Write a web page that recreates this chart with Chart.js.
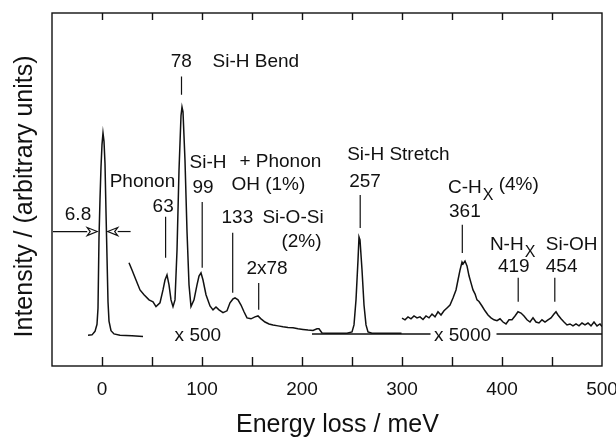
<!DOCTYPE html>
<html>
<head>
<meta charset="utf-8">
<script src="https://cdn.jsdelivr.net/npm/chart.js@4.4.1/dist/chart.umd.min.js"></script>
<style>
  html, body { margin: 0; padding: 0; background: #fff; }
  #box { width: 616px; height: 439px; }
</style>
</head>
<body>
<div id="box"><canvas id="myChart" width="616" height="439"></canvas></div>
<script>
// energy loss in meV, intensity in arbitrary units (zero = baseline)

// elastic peak, x 1
var elasticE = [-14, -10, -7, -5, -4, -3, -2, -1, 0, 1, 2, 3, 4, 5, 6, 7, 9, 12, 18, 30, 41];
var elasticI = [-0.4, -0.3, 0.8, 3, 8, 30, 42, 52, 59, 62.6, 60, 53, 38, 24, 10, 4, 1, 0, -0.4, -0.6, -0.8];

// vibrational region, x 500
var lowE = [27, 30, 34, 38, 42, 47, 51, 54, 58, 61, 63, 65, 67, 69, 71, 73, 75, 77, 79, 80, 81, 83, 85, 87, 89,
  92, 95, 97, 99, 101, 104, 108, 111, 114, 117, 121, 125, 128, 131, 133, 136, 139, 142, 145, 149, 153, 156, 159,
  163, 167, 171, 176, 181, 186, 191, 196, 201, 206, 211, 215, 217, 220, 225, 235, 245, 250, 252, 254, 256, 257,
  258, 260, 262, 264, 266, 270, 280, 290, 299.5];
var lowI = [22.2, 19.9, 16.8, 13.7, 12.2, 10.6, 10.0, 8.5, 9.7, 13.7, 16.8, 18.4, 15.3, 10.6, 8.5, 10.6, 26, 51,
  68, 70.7, 69.2, 54, 32, 15.3, 8.5, 10.6, 15.3, 18, 19, 16.8, 12.2, 8.7, 7.5, 8.4, 7.5, 6.6, 7.2, 9.7, 10.9,
  11.2, 10.6, 9.0, 6.9, 5.0, 4.7, 5.3, 5.6, 4.7, 3.7, 3.1, 2.8, 2.5, 2.2, 2.0, 1.9, 1.6, 1.4, 1.2, 1.1, 1.6, 1.6,
  0.3, 0.2, 0.2, 0.2, 0.6, 2.8, 10.6, 23, 30.2, 29.3, 20, 9, 2.8, 0.6, 0.2, 0.2, 0.2, 0.2];

// stretching region, x 5000
var highE = [300, 303, 306, 309, 312, 315, 318, 321, 324, 327, 330, 333, 336, 339, 342, 345, 348, 351, 354, 356,
  358, 360, 361, 363, 365, 367, 369, 371, 373, 375, 377, 380, 383, 386, 389, 392, 395, 398, 401, 404, 407, 410,
  413, 416, 419, 422, 425, 428, 431, 434, 437, 440, 443, 446, 449, 452, 454, 456, 459, 462, 465, 468, 471, 474,
  477, 480, 483, 486, 489, 492, 495, 498, 500];
var highI = [4.9, 4.4, 5.3, 4.7, 5.6, 5.0, 5.3, 4.5, 5.6, 5.0, 6.2, 5.3, 6.9, 5.9, 7.2, 8.1, 9.0, 11.2, 13.7, 16.8,
  19.9, 22.4, 21.8, 22.7, 21.2, 18.1, 15.9, 13.7, 12.5, 10.6, 10.1, 8.7, 7.2, 5.9, 5.0, 4.4, 4.1, 4.7, 3.7, 3.1,
  4.4, 4.4, 5.6, 6.9, 6.5, 5.6, 4.4, 3.7, 5.0, 3.7, 3.4, 4.4, 3.7, 4.4, 5.0, 6.2, 6.9, 5.9, 4.7, 3.7, 2.8, 3.1,
  2.5, 3.1, 2.5, 3.4, 2.8, 3.4, 2.5, 3.7, 2.5, 3.1, 2.3];

// zero line under the scaled spectra (gap for the "x 5000" text)
var baseE = [210, 328.5, 329, 394, 394.5, 500];
var baseI = [0, 0, null, null, 0, 0];

// peak labels: text, subscript, text after the subscript, position (meV, intensity) of the left end
var labelText = ['78', 'Si-H Bend', 'Phonon', '63', 'Si-H', '+ Phonon', '99', 'OH (1%)', '133', 'Si-O-Si',
  '(2%)', '2x78', 'Si-H Stretch', '257', 'C-H', '361', 'N-H', 'Si-OH', '419', '454', '6.8', 'x 500', 'x 5000'];
var labelSub = ['', '', '', '', '', '', '', '', '', '', '', '', '', '', 'X', '', 'X', '', '', '', '', '', ''];
var labelTail = ['', '', '', '', '', '', '', '', '', '', '', '', '', '', ' (4%)', '', '', '', '', '', '', '', ''];
var labelE = [68.7, 110.5, 7.7, 50.6, 87.5, 137.4, 90.5, 129.4, 119.5, 160.4, 179.4, 144.4, 245.2, 247.2, 346,
  347, 387.9, 443.8, 395.9, 443.8, -37.2, 72.6, 332];
var labelI = [84.9, 84.9, 47.4, 39.6, 53.3, 53.6, 45.5, 46.4, 36.1, 36.1, 28.7, 20.3, 55.8, 47.4, 45.5, 38.0,
  27.7, 27.7, 20.9, 20.9, 37.1, -0.6, -0.6];

// marker lines over the peaks
var markE = [79.5, 63.6, 100.2, 130.7, 156.7, 258.2, 360.3, 416.2, 452.8];
var markTop = [80.2, 36.5, 41.1, 31.5, 15.9, 43.3, 34.0, 17.5, 17.5];
var markBottom = [74.5, 23.7, 20.6, 12.8, 7.5, 33.0, 25.2, 10.0, 10.0];

// FWHM arrows of the elastic peak
var arrowFrom = [-49, 28.6];
var arrowTo = [-4.8, 5.7];
var arrowLevel = 31.9;

var tickStep = 50;
var labelStep = 100;

function pts(xs, ys) {
  var out = [];
  for (var i = 0; i < xs.length; i++) out.push({x: xs[i], y: ys[i]});
  return out;
}

function lineSet(data) {
  return {
    data: data,
    borderColor: '#111',
    borderWidth: 1.5,
    pointRadius: 0,
    tension: 0,
    fill: false,
    spanGaps: false
  };
}

var FONT = '"Liberation Sans", Arial, Helvetica, sans-serif';

var inkPlugin = {
  id: 'ink',
  afterDatasetsDraw: function(chart) {
    var ctx = chart.ctx, a = chart.chartArea;
    var x = chart.scales.x, y = chart.scales.y;
    ctx.save();
    ctx.strokeStyle = '#111';
    ctx.lineWidth = 1.4;
    ctx.strokeRect(a.left, a.top, a.right - a.left, a.bottom - a.top);

    // inward ticks top and bottom
    ctx.beginPath();
    x.ticks.forEach(function(t) {
      if (t.value <= x.min || t.value >= x.max) return;
      var px = Math.round(x.getPixelForValue(t.value)) + 0.5;
      ctx.moveTo(px, a.bottom); ctx.lineTo(px, a.bottom - 9);
      ctx.moveTo(px, a.top); ctx.lineTo(px, a.top + 7);
    });
    ctx.stroke();

    // marker lines
    ctx.lineWidth = 1.2;
    ctx.beginPath();
    for (var i = 0; i < markE.length; i++) {
      var mx = x.getPixelForValue(markE[i]);
      ctx.moveTo(mx, y.getPixelForValue(markTop[i]));
      ctx.lineTo(mx, y.getPixelForValue(markBottom[i]));
    }
    ctx.stroke();

    // arrows with open heads
    var ay = y.getPixelForValue(arrowLevel);
    for (var j = 0; j < arrowFrom.length; j++) {
      var x0 = x.getPixelForValue(arrowFrom[j]);
      var x1 = x.getPixelForValue(arrowTo[j]);
      var dir = x1 > x0 ? 1 : -1;
      var hb = x1 - dir * 10;
      ctx.beginPath();
      ctx.moveTo(x0, ay); ctx.lineTo(hb, ay);
      ctx.stroke();
      ctx.beginPath();
      ctx.moveTo(x1, ay);
      ctx.lineTo(hb, ay - 4);
      ctx.lineTo(hb + dir * 3, ay);
      ctx.lineTo(hb, ay + 4);
      ctx.closePath();
      ctx.stroke();
    }

    // text
    ctx.fillStyle = '#111';
    ctx.textAlign = 'left';
    ctx.textBaseline = 'middle';
    for (var k = 0; k < labelText.length; k++) {
      ctx.font = '19px ' + FONT;
      var lx = x.getPixelForValue(labelE[k]);
      var ly = y.getPixelForValue(labelI[k]);
      if (labelText[k] === 'x 500' || labelText[k] === 'x 5000') {
        ctx.fillStyle = '#fff';
        ctx.fillRect(lx - 2, ly - 9, ctx.measureText(labelText[k]).width + 4, 18);
        ctx.fillStyle = '#111';
      }
      ctx.fillText(labelText[k], lx, ly);
      if (labelSub[k]) {
        var sx = lx + ctx.measureText(labelText[k]).width + 1;
        ctx.font = '16px ' + FONT;
        ctx.fillText(labelSub[k], sx, ly + 8);
        var tx = sx + ctx.measureText(labelSub[k]).width;
        ctx.font = '19px ' + FONT;
        if (labelTail[k]) ctx.fillText(labelTail[k], tx, ly - 3);
      }
    }
    ctx.restore();
  }
};

var ctx = document.getElementById('myChart').getContext('2d');
var myChart = new Chart(ctx, {
  type: 'line',
  data: {
    datasets: [
      lineSet(pts(elasticE, elasticI)),
      lineSet(pts(lowE, lowI)),
      lineSet(pts(highE, highI)),
      lineSet(pts(baseE, baseI))
    ]
  },
  options: {
    responsive: false,
    animation: false,
    events: [],
    layout: { padding: { top: 13, right: 14, left: 0, bottom: 0 } },
    plugins: { legend: { display: false }, tooltip: { enabled: false } },
    scales: {
      x: {
        type: 'linear',
        min: -50,
        max: 500,
        grid: { display: false },
        border: { display: false },
        afterFit: function(s) {
          s.height = 73;
          s.paddingLeft = 0;
          s.paddingRight = 0;
        },
        ticks: {
          stepSize: tickStep,
          padding: 4,
          color: '#111',
          font: { family: FONT, size: 19 },
          maxRotation: 0,
          autoSkip: false,
          callback: function(v) { return v % labelStep === 0 ? v : ''; }
        },
        title: {
          display: true,
          // leading spaces nudge the centred title a little to the right, as in the original
          text: '   Energy loss / meV',
          color: '#111',
          font: { family: FONT, size: 25, lineHeight: 1 },
          padding: { top: 0, bottom: 1 }
        }
      },
      y: {
        type: 'linear',
        min: -10,
        max: 100,
        grid: { display: false },
        border: { display: false },
        ticks: { display: false },
        afterFit: function(s) { s.width = 52; },
        title: {
          display: true,
          text: 'Intensity / (arbitrary units)  ',
          color: '#111',
          font: { family: FONT, size: 25, lineHeight: 1 },
          padding: { top: 13, bottom: 0 }
        }
      }
    }
  },
  plugins: [inkPlugin]
});
</script>
</body>
</html>
